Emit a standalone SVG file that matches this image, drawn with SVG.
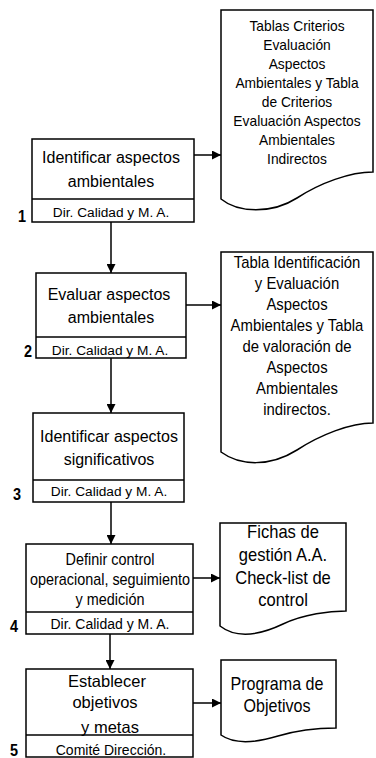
<svg xmlns="http://www.w3.org/2000/svg" width="376" height="758" viewBox="0 0 376 758">
<style>
.box{fill:#fff;stroke:#000;stroke-width:1.5}
.doc{fill:#fff;stroke:#000;stroke-width:1.5}
.ln{fill:none;stroke:#000;stroke-width:1.5}
text{font-family:"Liberation Sans",Arial,sans-serif;fill:#000;text-anchor:middle}
.t{font-size:16px}
.s{font-size:13.7px}
.n{font-size:17px;font-weight:bold;text-anchor:end}
.d1{font-size:15px}
.d2{font-size:16px}
.d4{font-size:18px}
</style>
<defs>
<marker id="ah" markerWidth="9" markerHeight="9" refX="9" refY="4.5" orient="auto" markerUnits="userSpaceOnUse">
<path d="M0,0 L9,4.5 L0,9 Z" fill="#000"/>
</marker>
</defs>
<rect width="376" height="758" fill="#fff"/>
<g id="connectors">
<line class="ln" x1="111" y1="222" x2="111" y2="273" marker-end="url(#ah)"/>
<line class="ln" x1="111" y1="358" x2="111" y2="413" marker-end="url(#ah)"/>
<line class="ln" x1="111" y1="502" x2="111" y2="544" marker-end="url(#ah)"/>
<line class="ln" x1="110" y1="634" x2="110" y2="669" marker-end="url(#ah)"/>
<line class="ln" x1="194" y1="155" x2="221" y2="155" marker-end="url(#ah)"/>
<line class="ln" x1="186" y1="305" x2="221" y2="305" marker-end="url(#ah)"/>
<line class="ln" x1="193" y1="578" x2="220" y2="578" marker-end="url(#ah)"/>
<line class="ln" x1="193" y1="703" x2="221" y2="703" marker-end="url(#ah)"/>
</g>
<g id="step1">
<rect class="box" x="32" y="139" width="162" height="83"/>
<line class="ln" x1="32" y1="199" x2="194" y2="199"/>
<text class="t" x="111" y="163">Identificar aspectos</text>
<text class="t" x="111" y="187">ambientales</text>
<text class="s" x="111" y="217">Dir. Calidad y M. A.</text>
<text class="n" transform="translate(26 222) scale(0.85 1)">1</text>
</g>
<g id="step2">
<rect class="box" x="36" y="273" width="150" height="85"/>
<line class="ln" x1="36" y1="337" x2="186" y2="337"/>
<text class="t" x="109" y="300">Evaluar aspectos</text>
<text class="t" x="111" y="323">ambientales</text>
<text class="s" x="110" y="355">Dir. Calidad y M. A.</text>
<text class="n" transform="translate(32 357) scale(0.85 1)">2</text>
</g>
<g id="step3">
<rect class="box" x="33" y="413" width="151" height="89"/>
<line class="ln" x1="33" y1="480" x2="184" y2="480"/>
<text class="t" x="109" y="442">Identificar aspectos</text>
<text class="t" x="109" y="465">significativos</text>
<text class="s" x="109" y="496">Dir. Calidad y M. A.</text>
<text class="n" transform="translate(21 500) scale(0.85 1)">3</text>
</g>
<g id="step4">
<rect class="box" x="26" y="544" width="167" height="90"/>
<line class="ln" x1="26" y1="612" x2="193" y2="612"/>
<g transform="translate(110 0) scale(0.9 1)">
<text class="t" x="0" y="565">Definir control</text>
<text class="t" x="0" y="585">operacional, seguimiento</text>
<text class="t" x="0" y="605">y medición</text>
</g>
<text class="s" x="110" y="629" style="font-size:14px">Dir. Calidad y M. A.</text>
<text class="n" transform="translate(18 632) scale(0.85 1)">4</text>
</g>
<g id="step5">
<rect class="box" x="26" y="669" width="167" height="88"/>
<line class="ln" x1="26" y1="735" x2="193" y2="735"/>
<text class="t" x="107" y="687" style="font-size:16.5px">Establecer</text>
<text class="t" x="105" y="708" style="font-size:16.5px">objetivos</text>
<text class="t" x="110" y="733" style="font-size:16.5px">y metas</text>
<text class="s" x="111" y="755" style="font-size:14px">Comité Dirección.</text>
<text class="n" transform="translate(18 756) scale(0.85 1)">5</text>
</g>
<g id="doc1">
<path class="doc" d="M221,10 H373 V172 C350,172 320,183 297,198 C272,214 238,213 221,199 Z"/>
<g transform="translate(297 0) scale(0.92 1)">
<text class="d1" x="0" y="31">Tablas Criterios</text>
<text class="d1" x="0" y="50">Evaluación</text>
<text class="d1" x="0" y="69">Aspectos</text>
<text class="d1" x="0" y="88">Ambientales y Tabla</text>
<text class="d1" x="0" y="107">de Criterios</text>
<text class="d1" x="0" y="126">Evaluación Aspectos</text>
<text class="d1" x="0" y="145">Ambientales</text>
<text class="d1" x="0" y="164">Indirectos</text>
</g>
</g>
<g id="doc2">
<path class="doc" d="M221,252 H373 V423 C350,423 320,435 297,450 C270,467 240,466 221,452 Z"/>
<g transform="translate(297 0) scale(0.93 1)">
<text class="d2" x="0" y="268">Tabla Identificación</text>
<text class="d2" x="0" y="289">y Evaluación</text>
<text class="d2" x="0" y="310">Aspectos</text>
<text class="d2" x="0" y="331">Ambientales y Tabla</text>
<text class="d2" x="0" y="352">de valoración de</text>
<text class="d2" x="0" y="373">Aspectos</text>
<text class="d2" x="0" y="394">Ambientales</text>
<text class="d2" x="0" y="415">indirectos.</text>
</g>
</g>
<g id="doc4">
<path class="doc" d="M220,523 H346 V611 C330,611 304,614 283,624 C262,634 238,640 220,626 Z"/>
<g transform="translate(283 0) scale(0.92 1)">
<text class="d4" x="0" y="538">Fichas de</text>
<text class="d4" x="0" y="561">gestión A.A.</text>
<text class="d4" x="0" y="584">Check-list de</text>
<text class="d4" x="0" y="606">control</text>
</g>
</g>
<g id="doc5">
<path class="doc" d="M221,660 H336 V728 C322,728 298,730 278,736 C258,742 235,745 221,735 Z"/>
<g transform="translate(277 0) scale(0.92 1)">
<text class="d4" x="0" y="690" style="font-size:17.5px">Programa de</text>
<text class="d4" x="0" y="712" style="font-size:17.5px">Objetivos</text>
</g>
</g>
</svg>
